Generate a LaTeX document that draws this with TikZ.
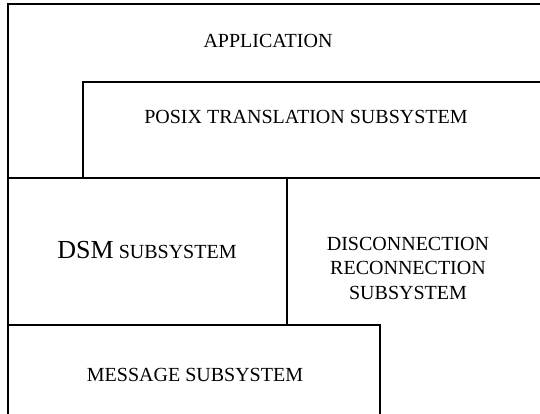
\documentclass[tikz,border=0pt]{standalone}
\usepackage{fontspec}
\setmainfont{Liberation Serif}
\begin{document}
\begin{tikzpicture}[x=1pt,y=-1pt,
  rule/.style={line width=1.8pt, draw=black},
  lbl/.style={inner sep=0pt, font=\fontsize{20}{24.5}\selectfont, align=center}]
\useasboundingbox (0,0) rectangle (540,413);
\clip (0,0) rectangle (540,413);
% layer outlines (open toward right and bottom edges of the figure)
\draw[rule] (8,430) -- (8,4) -- (560,4);
\draw[rule] (83,178) -- (83,82) -- (560,82);
\draw[rule] (8,178) -- (560,178);
\draw[rule] (287,178) -- (287,325);
\draw[rule] (8,325) -- (380,325) -- (380,430);
% labels
\node[lbl] (app) at (268,41) {APPLICATION};
\node[lbl] (posix) at (306,117) {POSIX TRANSLATION SUBSYSTEM};
\node[lbl] (dsm) at (147,250) {{\fontsize{26}{30}\selectfont DSM} SUBSYSTEM};
\node[lbl] (disc) at (408,268) {DISCONNECTION\\RECONNECTION\\SUBSYSTEM};
\node[lbl] (msg) at (195,375) {MESSAGE SUBSYSTEM};
\end{tikzpicture}
\end{document}
